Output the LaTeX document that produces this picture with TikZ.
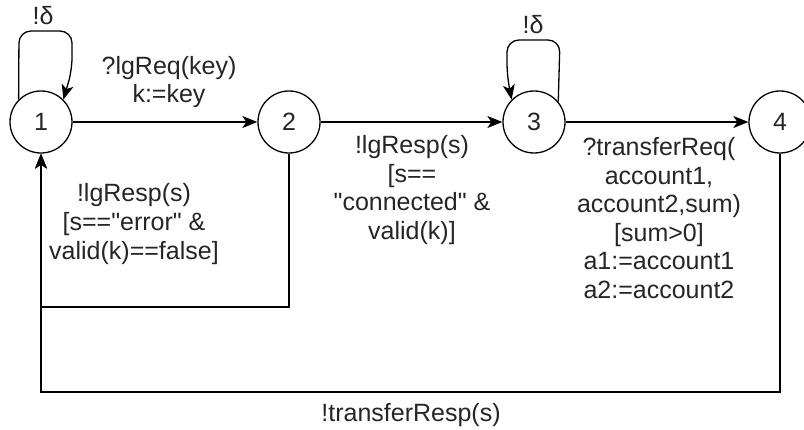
\documentclass[tikz,border=0pt]{standalone}
\usepackage{fontspec}
\setmainfont{Liberation Sans}[Ligatures=TeXOff]
\usetikzlibrary{arrows.meta}
\begin{document}
\begin{tikzpicture}[x=1pt,y=-1pt,
  state/.style={circle,draw,line width=1.3pt,minimum size=62pt,inner sep=0pt,
    font=\fontsize{25}{28}\selectfont,text=black!85},
  edge/.style={line width=1.3pt,-{Stealth[length=15pt,width=12pt,inset=4pt]}},
  lbl/.style={align=center,inner sep=0pt,text=black!85,
    font=\fontsize{25}{28.6}\selectfont}]
\useasboundingbox (0,0) rectangle (804,430);
\fill[white] (0,0) rectangle (804,430);

% states
\node[state] (n1) at (41,122) {1};
\node[state] (n2) at (289,122) {2};
\node[state] (n3) at (534,122) {3};
\node[state] (n4) at (780,122) {4};

% bends of the return edges
\coordinate (b2) at (41,307);
\coordinate (b4) at (41,392);

% transitions
\draw[edge] (n1) -- (n2);
\draw[edge] (n2) -- (n3);
\draw[edge] (n3) -- (n4);
\draw[edge] (n2.south) |- (b2) -- (n1.south);
\draw[edge] (n4.south) |- (b4) -- (n1.south);

% quiescence self-loops
\draw[edge,rounded corners=12pt] (n1.135) -- (19,31) -- (72,31) -- (72,70) -- (n1.45);
\draw[edge,rounded corners=12pt] (n3.40) -- (560,40) -- (507,40) -- (507,75) -- (n3.135);

% labels
\node[lbl] (d1) at (43,16) {!δ};
\node[lbl] (d3) at (533,25) {!δ};
\node[lbl] (l12) at (169,82) {?lgReq(key)\\k:=key};
\node[lbl] (l21) at (134,224) {!lgResp(s)\\{[}s=="error" \&\\valid(k)==false]};
\node[lbl] (l23) at (412,190) {!lgResp(s)\\{[}s==\\"connected" \&\\valid(k)]};
\node[lbl] (l34) at (659,218) {?transferReq(\\account1,\\account2,sum)\\{[}sum>0]\\a1:=account1\\a2:=account2};
\node[lbl] (l41) at (411,415) {!transferResp(s)};
\end{tikzpicture}
\end{document}
